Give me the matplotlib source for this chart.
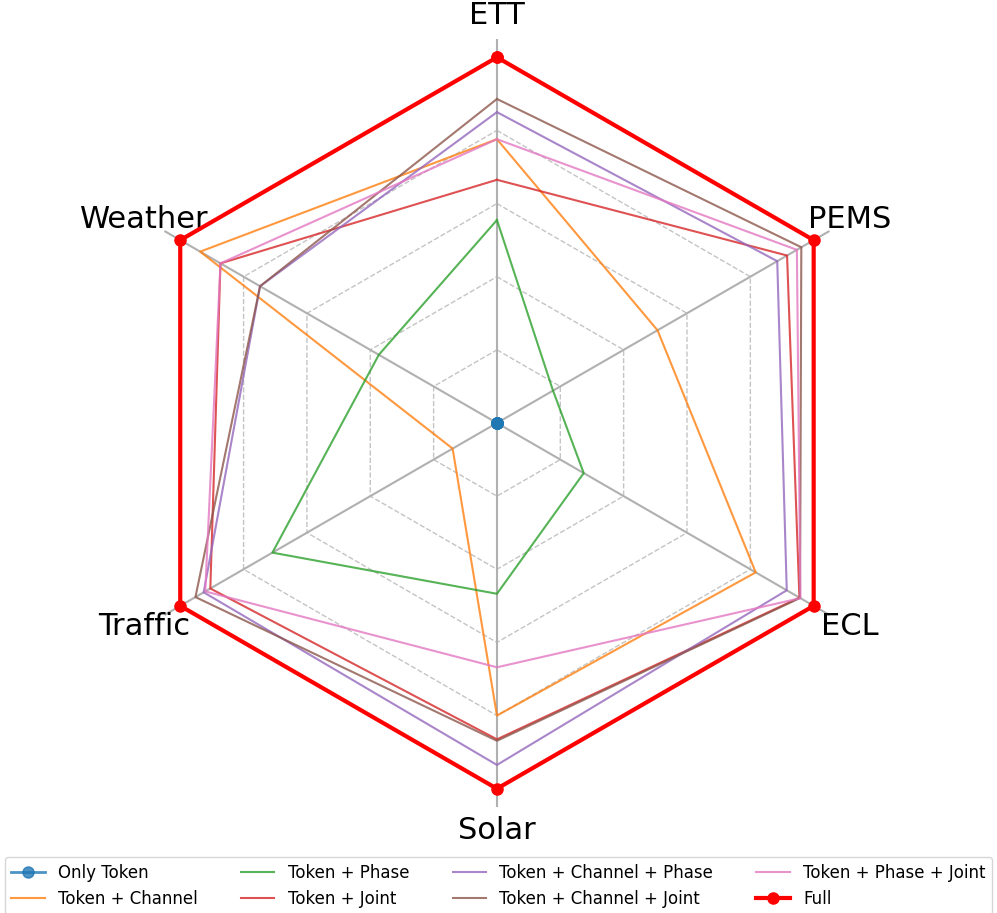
import numpy as np
import matplotlib
matplotlib.use("Agg")
import matplotlib.pyplot as plt

datasets = ["ETT", "PEMS", "ECL", "Solar", "Traffic", "Weather"]

only_token = [0.0, 0.0, 0.0, 0.0, 0.0, 0.0]
token_channel = [0.776, 0.507, 0.817, 0.80, 0.14, 0.937]
token_phase = [0.555, 0.177, 0.274, 0.467, 0.709, 0.373]
token_joint = [0.665, 0.916, 0.955, 0.865, 0.905, 0.873]
token_channel_phase = [0.850, 0.885, 0.915, 0.935, 0.926, 0.748]
token_channel_joint = [0.886, 0.961, 0.957, 0.869, 0.952, 0.748]
token_phase_joint = [0.776, 0.947, 0.958, 0.668, 0.921, 0.873]
full = [1.0, 1.0, 1.0, 1.0, 1.0, 1.0]

series = [
    ("Only Token", only_token),
    ("Token + Channel", token_channel),
    ("Token + Phase", token_phase),
    ("Token + Joint", token_joint),
    ("Token + Channel + Phase", token_channel_phase),
    ("Token + Channel + Joint", token_channel_joint),
    ("Token + Phase + Joint", token_phase_joint),
    ("Full", full),
]
colors = ["tab:blue", "tab:orange", "tab:green", "tab:red",
          "tab:purple", "tab:brown", "tab:pink", "red"]

n = len(datasets)
angles = np.linspace(0, 2 * np.pi, n, endpoint=False)
angles_closed = np.concatenate([angles, angles[:1]])

fig = plt.figure(figsize=(9.97, 9.13), dpi=100)
ax = fig.add_axes([0.1133, 0.1161, 0.7703, 0.8412], projection="polar")
ax.set_theta_offset(np.pi / 2)
ax.set_theta_direction(-1)
ax.set_ylim(0, 1.05)
ax.spines["polar"].set_visible(False)
ax.set_yticks([])
ax.set_xticks(angles)
ax.set_xticklabels([])
ax.grid(True, axis="x", color="#b0b0b0", linewidth=1.5)

# dashed hexagon rings
for level in [0.2, 0.4, 0.6, 0.8]:
    ax.plot(angles_closed, [level] * (n + 1), color="#c4c4c4",
            linestyle="--", linewidth=1, zorder=1)

for (name, vals), c in zip(series, colors):
    v = list(vals) + [vals[0]]
    if name == "Full":
        ax.plot(angles_closed, v, color=c, linewidth=3, marker="o",
                markersize=8, label=name, zorder=5)
    elif name == "Only Token":
        ax.plot(angles_closed, v, color=c, linewidth=2, marker="o",
                markersize=8, alpha=0.8, label=name, zorder=4)
    else:
        ax.plot(angles_closed, v, color=c, linewidth=1.5, alpha=0.8,
                label=name, zorder=3)

for ang, lab in zip(angles, datasets):
    ax.text(ang, 1.115, lab, fontsize=22, ha="center", va="center")

fig.legend(loc="lower center", bbox_to_anchor=(0.5, -0.011), ncol=4,
           fontsize=12, frameon=True, columnspacing=2.6)

fig.savefig("out.png", dpi=100)
